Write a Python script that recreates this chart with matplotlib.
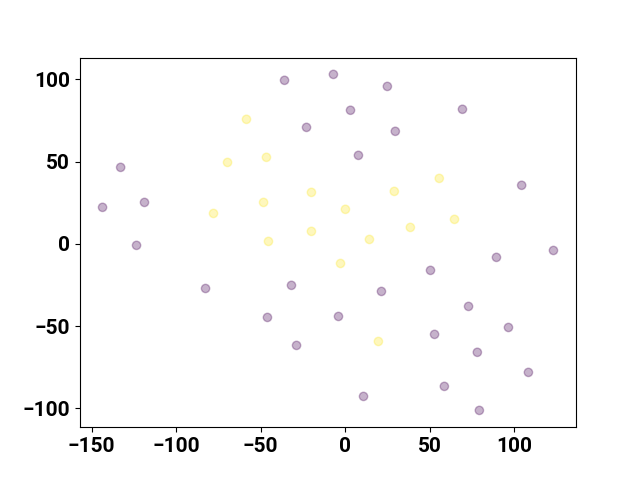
import matplotlib
matplotlib.use("Agg")
from matplotlib import pyplot as plt
import numpy as np

# purple group (label 0)
x0 = [-35.9, -7.0, 24.9, 3.1, 69.3, -22.9, 29.6, 7.8, -132.8, 104.3,
      -143.5, -118.7, -123.4, 123.1, 50.4, 89.4, -82.6, -31.8, 21.4, 72.9,
      -46.0, -4.0, 96.5, 52.8, -28.8, 78.1, 108.3, 58.6, 10.8, 79.3]
y0 = [99.4, 103.0, 95.7, 81.2, 81.8, 70.8, 68.4, 53.8, 46.5, 35.6,
      22.2, 25.2, -0.9, -4.0, -16.1, -8.2, -27.1, -25.2, -28.9, -38.0,
      -44.7, -44.1, -50.8, -55.0, -61.7, -65.9, -78.1, -86.6, -92.7, -101.2]

# yellow group (label 1)
x1 = [-58.4, -69.6, -46.6, -20.0, 29.0, 55.6, -48.3, -77.9, 0.1, 64.6,
      -20.0, 38.5, -45.4, 14.3, -2.8, 19.6]
y1 = [75.7, 49.5, 52.6, 31.3, 31.9, 39.8, 25.2, 18.5, 21.0, 14.9,
      7.6, 10.0, 1.5, 2.7, -11.9, -59.3]

x = np.array(x0 + x1)
y = np.array(y0 + y1)
labels = np.array([0] * len(x0) + [1] * len(x1))

plt.rcParams['font.family'] = ['Roboto', 'DejaVu Sans']
plt.rcParams['font.weight'] = 'bold'

fig = plt.figure(figsize=(6.4, 4.8), dpi=100)
ax = fig.add_subplot(111)
ax.scatter(x, y, c=labels, cmap='viridis', alpha=0.3)
ax.tick_params(labelsize=15)
for lab in ax.get_xticklabels() + ax.get_yticklabels():
    lab.set_fontweight('bold')

plt.savefig('out.png')
